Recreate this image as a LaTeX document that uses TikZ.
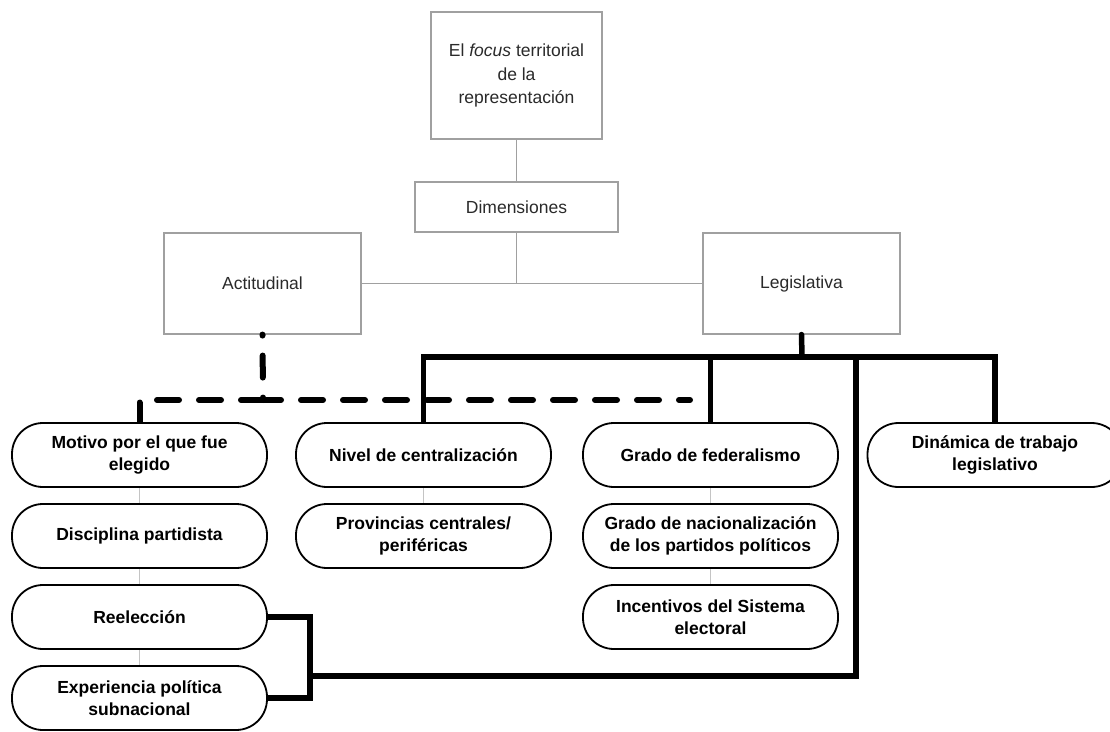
\documentclass[tikz,border=0pt]{standalone}
\usepackage{fontspec}
\setmainfont{Liberation Sans}
\usetikzlibrary{backgrounds}
\definecolor{boxgray}{HTML}{A0A0A0}
\definecolor{faintgray}{HTML}{C4C4C4}
\definecolor{txtgray}{HTML}{2A2A2A}
\begin{document}
\begin{tikzpicture}[x=1pt,y=-1pt,
  sqbox/.style={draw=boxgray,line width=1.1pt,fill=white,inner sep=0pt,align=center,text=txtgray,font=\fontsize{17.5}{23.5}\selectfont},
  pill/.style={draw=black,line width=1.8pt,fill=white,rounded corners=31pt,minimum width=255pt,minimum height=64pt,inner sep=0pt,align=center,font=\fontsize{17.5}{22}\selectfont\bfseries},
  greyline/.style={draw=boxgray,line width=1.1pt},
  faintline/.style={draw=faintgray,line width=1pt},
  thk/.style={line width=5.5pt},
  dsh/.style={line width=6pt,line cap=round,line join=round,dash pattern=on 22pt off 20pt}]
\useasboundingbox (0,0) rectangle (1110,731);

% square boxes
\node[sqbox,minimum width=171pt,minimum height=127pt] (top) at (516.5,75.5) {El \textit{focus} territorial\\de la\\representación};
\node[sqbox,minimum width=203pt,minimum height=50pt] (dim) at (516.5,207) {Dimensiones};
\node[sqbox,minimum width=197pt,minimum height=101pt] (act) at (262.5,283.5) {Actitudinal};
\node[sqbox,minimum width=197pt,minimum height=101pt] (leg) at (801.5,283.5) {Legislativa};

% pill nodes
\node[pill] (mot) at (139.5,455) {Motivo por el que fue\\elegido};
\node[pill] (dis) at (139.5,536) {Disciplina partidista};
\node[pill] (ree) at (139.5,617) {Reelección};
\node[pill] (exp) at (139.5,698) {Experiencia política\\subnacional};
\node[pill] (niv) at (423.5,455) {Nivel de centralización};
\node[pill] (pro) at (423.5,536) {Provincias centrales/\\periféricas};
\node[pill] (gfe) at (710.5,455) {Grado de federalismo};
\node[pill] (gna) at (710.5,536) {Grado de nacionalización\\de los partidos políticos};
\node[pill] (inc) at (710.5,617) {Incentivos del Sistema\\electoral};
\node[pill] (din) at (995,455) {Dinámica de trabajo\\legislativo};

% helper coordinates
\coordinate (hub) at (802,357);
\coordinate (vx) at (856,357);
\coordinate (brk) at (310,676);
\coordinate (dj) at (263,400);
\coordinate (dend) at (690,400);

\begin{pgfonlayer}{background}
  \fill[white] (0,0) rectangle (1110,731);
  % grey connectors
  \draw[greyline] (top.south) -- (dim.north);
  \draw[greyline] (dim.south) -- (dim.south |- act.east);
  \draw[greyline] (act.east) -- (leg.west);
  \draw[faintline] (mot.south) -- (dis.north);
  \draw[faintline] (dis.south) -- (ree.north);
  \draw[faintline] (ree.south) -- (exp.north);
  \draw[faintline] (niv.south) -- (pro.north);
  \draw[faintline] (gfe.south) -- (gna.north);
  \draw[faintline] (gna.south) -- (inc.north);
  % thick connectors
  \draw[thk] (niv.north) -- (niv.north |- hub) -- (din.north |- hub) -- (din.north);
  \draw[thk] (gfe.north) -- (gfe.north |- hub);
  \draw[thk] (vx) |- (brk);
  \draw[thk] (ree.east) -- (brk |- ree.east) -- (brk |- exp.east) -- (exp.east);
  % dashed connectors
  \draw[dsh] (dj) -- (mot.north |- dj) -- (mot.north);
  \draw[dsh,dash phase=4pt] (dj) -- (dend);
\end{pgfonlayer}
\draw[thk,line cap=round] (leg.south) -- (hub);
\draw[dsh,dash phase=21pt] (act.south) -- (dj);
\end{tikzpicture}
\end{document}
